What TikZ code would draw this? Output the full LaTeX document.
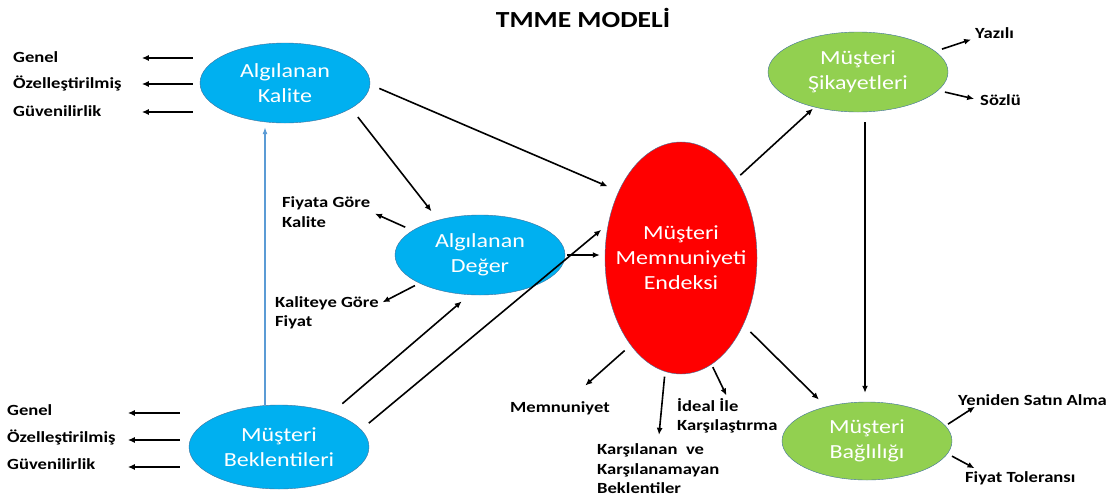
\documentclass[tikz,border=0pt]{standalone}
\usepackage{fontspec}
\setmainfont{Carlito}[FakeStretch=1.2]
\usetikzlibrary{arrows.meta,shapes.geometric,calc}
\definecolor{hellblau}{RGB}{0,176,240}
\definecolor{gruen}{RGB}{146,208,80}
\definecolor{rahmen}{RGB}{65,113,156}
\definecolor{linienblau}{RGB}{91,155,213}
\begin{document}
\begin{tikzpicture}[x=1pt,y=-1pt,
    oval/.style={ellipse,inner sep=0pt,draw=rahmen,line width=0.4pt,text=white,
      align=center,font=\fontsize{20}{25}\selectfont},
    lbl/.style={anchor=west,inner sep=1pt,align=left,
      font=\bfseries\fontsize{15.5}{19.5}\selectfont},
    pfeil/.style={line width=1.6pt,-{Latex[length=7pt,width=6pt]}}]
   \useasboundingbox (0,0) rectangle (1111,501);
   % Titel
   \node[lbl,anchor=center,font=\bfseries\fontsize{23}{28}\selectfont] (titel) at (583,18) {TMME MODELİ};
   % Ellipsen
   \node[oval,fill=hellblau,minimum width=170pt,minimum height=80pt] (kalite) at (285,83) {Algılanan\\Kalite};
   \node[oval,fill=hellblau,minimum width=170pt,minimum height=80pt] (deger) at (480,255) {Algılanan\\Değer};
   \node[oval,fill=hellblau,minimum width=180pt,minimum height=84pt] (bekl) at (279,447) {Müşteri\\Beklentileri};
   \node[oval,fill=red,minimum width=152pt,minimum height=232pt] (mme) at (681,258) {};
   \node[oval,draw=none] (mmetext) at (mme.center) {Müşteri\\Memnuniyeti\\Endeksi};
   \node[oval,fill=gruen,minimum width=180pt,minimum height=80pt] (sikayet) at (858,72) {Müşteri\\Şikayetleri};
   \node[oval,fill=gruen,minimum width=170pt,minimum height=78pt] (baglilik) at (867,441) {Müşteri\\Bağlılığı};
   % Merkmale links
   \node[lbl] (genel1) at (12,57) {Genel};
   \node[lbl] (ozel1) at (12,83) {Özelleştirilmiş};
   \node[lbl] (guven1) at (12,111) {Güvenilirlik};
   \node[lbl] (genel2) at (6,410) {Genel};
   \node[lbl] (ozel2) at (6,437) {Özelleştirilmiş};
   \node[lbl] (guven2) at (6,464) {Güvenilirlik};
   % Merkmale Mitte
   \node[lbl] (fiyata) at (281,212) {Fiyata Göre\\Kalite};
   \node[lbl] (kaliteye) at (274,313) {Kaliteye Göre\\Fiyat};
   \node[lbl] (memnuniyet) at (509,408) {Memnuniyet};
   \node[lbl] (karsilanan) at (596,469) {Karşılanan\ \ ve\\Karşılanamayan\\Beklentiler};
   \node[lbl] (ideal) at (676,416) {İdeal İle\\Karşılaştırma};
   % Merkmale rechts
   \node[lbl] (yazili) at (974,33) {Yazılı};
   \node[lbl] (sozlu) at (979,100) {Sözlü};
   \node[lbl] (yeniden) at (957,400) {Yeniden Satın Alma};
   \node[lbl] (fiyattol) at (964,478) {Fiyat Toleransı};
   %
   \foreach \n in {genel1,ozel1,guven1}
     \draw[pfeil] ($(kalite.west |- \n)+(-7,1)$) -- ($(kalite.west |- \n)+(-58,1)$);
   \foreach \n in {genel2,ozel2,guven2}
     \draw[pfeil] ($(bekl.west |- \n)+(-9,3)$) -- ($(bekl.west |- \n)+(-61,3)$);
   % blauer Pfeil
   \draw[line width=1.2pt,linienblau,-{Latex[length=7pt,width=5pt]}] ($(bekl.north)+(-14,0)$) -- ($(kalite.south)+(-20,4)$);
   % Pfeile zwischen den Ellipsen
   \draw[pfeil,shorten <=10pt,shorten >=12pt] (kalite.-1) -- (mme.133);
   \draw[pfeil,shorten <=11pt,shorten >=11pt] (kalite.-21) -- (deger.140);
   \draw[pfeil,shorten <=2pt,shorten >=5pt] (deger.east) -- (deger.east -| mme.west);
   \draw[pfeil,shorten <=14pt,shorten >=10pt] (bekl.33) -- (deger.255);
   \draw[pfeil,shorten <=10pt,shorten >=9pt] (bekl.12) -- (mme.155);
   \draw[pfeil,shorten <=5pt,shorten >=2pt] (mme.55) -- (sikayet.219);
   \draw[pfeil,shorten <=10pt,shorten >=9pt] ($(sikayet.south)+(7,0)$) -- ($(baglilik.north)+(-2,0)$);
   \draw[pfeil,shorten <=10pt,shorten >=10pt] (mme.-47) -- (baglilik.140);
   % Pfeile zu den Merkmalen
   \draw[pfeil,shorten <=8pt,shorten >=4pt] (deger.160) -- (fiyata.east);
   \draw[pfeil,shorten <=5pt,shorten >=3pt] (deger.205) -- (kaliteye.10);
   \draw[pfeil,shorten <=8pt,shorten >=22pt] (mme.240) -- (memnuniyet);
   \draw[pfeil,shorten <=5pt,shorten >=8pt] (mme.262) -- (karsilanan.north);
   \draw[pfeil,shorten <=3pt,shorten >=2pt] (mme.-74) -- (ideal.north);
   \draw[pfeil,shorten <=7pt,shorten >=3pt] (sikayet.15) -- (yazili.195);
   \draw[pfeil,shorten <=7pt,shorten >=5pt] (sikayet.-13) -- (sozlu.west);
   \draw[pfeil,shorten <=3pt] (baglilik.11) -- ($(yeniden.south west)+(18,0)$);
   \draw[pfeil,shorten <=5pt,shorten >=4pt] (baglilik.-9) -- ($(fiyattol.north west)+(14,0)$);
\end{tikzpicture}
\end{document}
